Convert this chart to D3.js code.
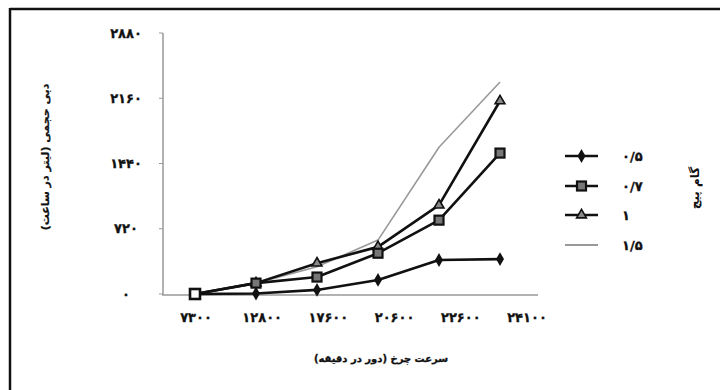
<!DOCTYPE html>
<html><head><meta charset="utf-8">
<script src="https://cdn.jsdelivr.net/npm/d3@7"></script>
<style>
html,body{margin:0;padding:0;background:#fff;}
svg{display:block;font-family:"DejaVu Sans",sans-serif;font-weight:bold;}
</style></head>
<body>
<svg id="chart" width="720" height="390"></svg>
<script>
const categories = ["۷۳۰۰","۱۲۸۰۰","۱۷۶۰۰","۲۰۶۰۰","۲۲۶۰۰","۲۴۱۰۰"];
const yTicks = [0,720,1440,2160,2880];
const yTickLabels = ["۰","۷۲۰","۱۴۴۰","۲۱۶۰","۲۸۸۰"];
const seriesNames = ["۰/۵","۰/۷","۱","۱/۵"];
const s05 = [0, 5, 45, 155, 375, 385];
const s07 = [0, 120, 187, 450, 815, 1555];
const s10 = [0, 120, 340, 520, 980, 2130];
const s15 = [0, 120, 300, 595, 1620, 2340];
const seriesValues = [s05, s07, s10, s15];
const markerTypes = ["diamond","square","triangle","none"];
const xTitle = "سرعت چرخ (دور در دقیقه)";
const yTitle = "دبی حجمی (لیتر در ساعت)";
const legendTitle = "گام پیچ";

const svg = d3.select("#chart");
// frame
svg.append("line").attr("x1",10).attr("x2",720).attr("y1",9).attr("y2",9).attr("stroke","#111").attr("stroke-width",2.5);
svg.append("line").attr("x1",10).attr("x2",10).attr("y1",8).attr("y2",390).attr("stroke","#111").attr("stroke-width",2.5);

const x = d3.scalePoint().domain(categories).range([195,500]);
const xl = d3.scalePoint().domain(categories).range([196,527]);
const y = d3.scaleLinear().domain([0,2880]).range([294,33]);

// axes lines
svg.append("line").attr("x1",163).attr("x2",163).attr("y1",33).attr("y2",295).attr("stroke","#999").attr("stroke-width",1.5);
svg.append("line").attr("x1",162).attr("x2",538).attr("y1",295).attr("y2",295).attr("stroke","#999").attr("stroke-width",1.5);

// y ticks
const yg = svg.append("g");
yTicks.forEach((t,i)=>{
  yg.append("line").attr("x1",159).attr("x2",163).attr("y1",y(t)).attr("y2",y(t)).attr("stroke","#999").attr("stroke-width",1);
  yg.append("text").attr("x",126).attr("y",y(t)).attr("dy","0.35em").attr("text-anchor","middle")
    .attr("font-size",13).attr("fill","#111").attr("stroke","#111").attr("stroke-width",0.3).text(yTickLabels[i]);
});
// x tick labels
categories.forEach(c=>{
  svg.append("text").attr("x",xl(c)).attr("y",317).attr("dy","0.35em").attr("text-anchor","middle")
    .attr("font-size",13).attr("fill","#111").attr("stroke","#111").attr("stroke-width",0.3).text(c);
});

// titles
svg.append("text").attr("transform","translate(45,157) rotate(-90)").attr("text-anchor","middle").attr("dy","0.35em")
  .attr("font-size",11).attr("fill","#111").attr("stroke","#111").attr("stroke-width",0.2)
  .attr("direction","rtl").attr("unicode-bidi","embed").text(yTitle);
svg.append("text").attr("x",381).attr("y",358).attr("text-anchor","middle").attr("dy","0.35em")
  .attr("font-size",10).attr("fill","#111").attr("stroke","#111").attr("stroke-width",0.3)
  .attr("direction","rtl").attr("unicode-bidi","embed").text(xTitle);

function drawMarker(g, type, cx, cy){
  if(type==="diamond"){
    g.append("path").attr("d",d3.symbol(d3.symbolDiamond,55)()).attr("transform",`translate(${cx},${cy})`)
      .attr("fill","#111");
  } else if(type==="square"){
    g.append("rect").attr("x",cx-4.5).attr("y",cy-4.5).attr("width",9).attr("height",9)
      .attr("fill","#777").attr("stroke","#111").attr("stroke-width",2.2);
  } else if(type==="triangle"){
    g.append("path").attr("d",d3.symbol(d3.symbolTriangle,42)()).attr("transform",`translate(${cx},${cy})`)
      .attr("fill","#888").attr("stroke","#111").attr("stroke-width",1.6);
  }
}

const line = d3.line().x((d,i)=>x(categories[i])).y(d=>y(d));
const order = [3,2,1,0];
order.forEach(si=>{
  const vals = seriesValues[si];
  const isGray = markerTypes[si]==="none";
  svg.append("path").datum(vals).attr("d",line).attr("fill","none")
    .attr("stroke", isGray ? "#999" : "#111").attr("stroke-width", isGray ? 1.6 : 2.6)
    .attr("stroke-linejoin","round");
});
order.forEach(si=>{
  const g = svg.append("g");
  seriesValues[si].forEach((v,i)=>{
    if(i===0) return;
    drawMarker(g, markerTypes[si], x(categories[i]), y(v));
  });
});
// shared origin marker
svg.append("rect").attr("x",x(categories[0])-5).attr("y",y(0)-5).attr("width",10).attr("height",10)
  .attr("fill","#fff").attr("stroke","#111").attr("stroke-width",2.6);

// legend
const legY = [156,186,215,245];
seriesNames.forEach((n,i)=>{
  const g = svg.append("g");
  const isGray = markerTypes[i]==="none";
  g.append("line").attr("x1",565).attr("x2",598).attr("y1",legY[i]).attr("y2",legY[i])
    .attr("stroke", isGray ? "#999" : "#111").attr("stroke-width", isGray ? 1.8 : 2.6);
  drawMarker(g, markerTypes[i], 581.5, legY[i]);
  g.append("text").attr("x",622).attr("y",legY[i]).attr("dy","0.35em").attr("font-size",13)
    .attr("fill","#111").attr("stroke","#111").attr("stroke-width",0.3).attr("direction","ltr").text(n);
});
svg.append("text").attr("transform","translate(695,188) rotate(-90)").attr("text-anchor","middle").attr("dy","0.35em")
  .attr("font-size",12).attr("fill","#111").attr("direction","rtl").attr("unicode-bidi","embed").text(legendTitle);
</script>
</body></html>
